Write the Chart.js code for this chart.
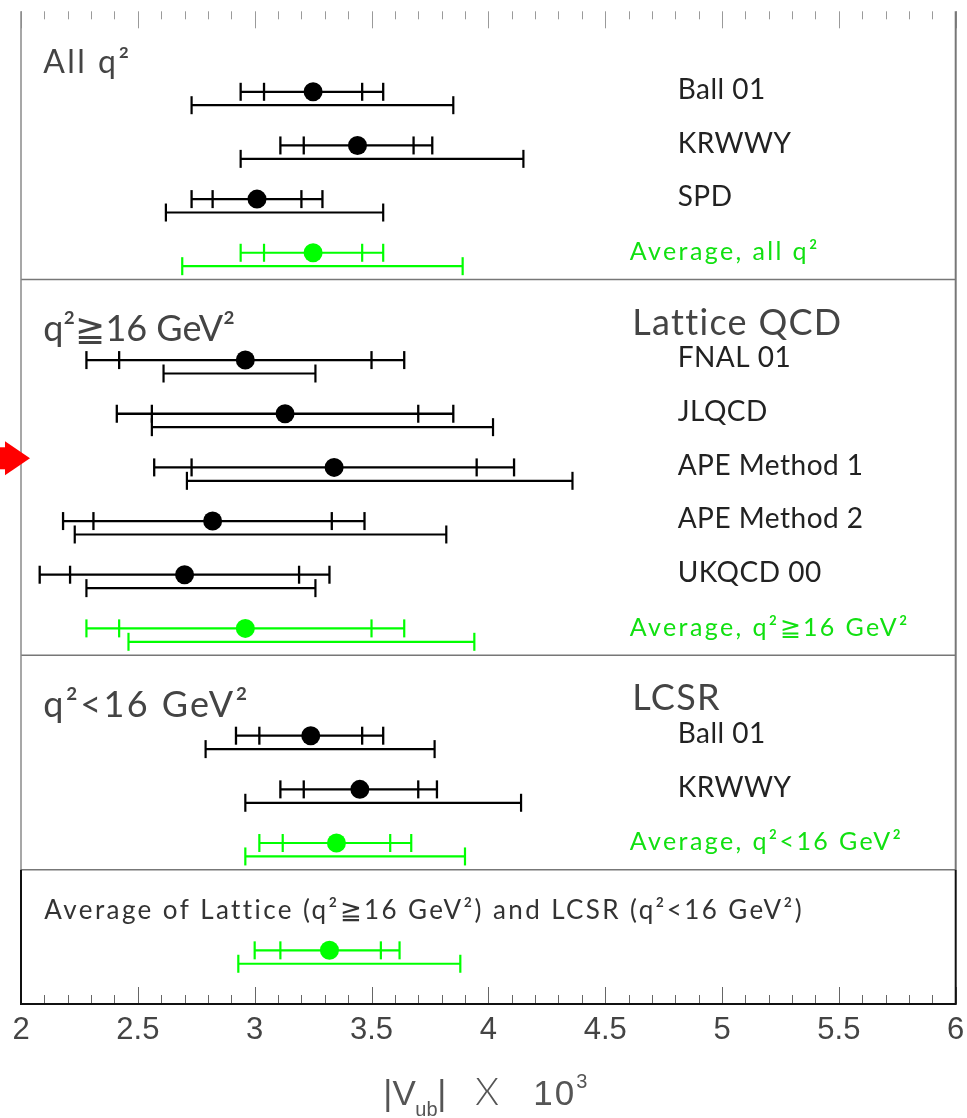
<!DOCTYPE html>
<html><head><meta charset="utf-8">
<script src="https://cdn.jsdelivr.net/npm/chart.js@4"></script>
<style>html,body{margin:0;padding:0;background:#fff}#wrap{width:967px;height:1118px;position:relative}</style>
</head><body><div id="wrap"><canvas id="c"></canvas></div>
<script>
// ---------- DATA ----------
const sectionTitles = ['All q\u00B2', 'q\u00B2\u226716 GeV\u00B2', 'q\u00B2<16 GeV\u00B2', 'Average of Lattice (q\u00B2\u226716 GeV\u00B2) and LCSR (q\u00B2<16 GeV\u00B2)'];
const sectionSubtitles = ['', 'Lattice QCD', 'LCSR', ''];
const sectionSizes = [4, 6, 3, 1];
const rowLabels = ['Ball 01', 'KRWWY', 'SPD', 'Average, all q\u00B2',
  'FNAL 01', 'JLQCD', 'APE Method 1', 'APE Method 2', 'UKQCD 00', 'Average, q\u00B2\u226716 GeV\u00B2',
  'Ball 01', 'KRWWY', 'Average, q\u00B2<16 GeV\u00B2', ''];
const isAverage = [false, false, false, true, false, false, false, false, false, true, false, false, true, true];
const central = [3.25, 3.44, 3.01, 3.25, 2.96, 3.13, 3.34, 2.82, 2.70, 2.96, 3.24, 3.45, 3.35, 3.32];
const statLo  = [3.04, 3.21, 2.82, 3.04, 2.42, 2.56, 2.73, 2.31, 2.21, 2.42, 3.02, 3.21, 3.12, 3.11];
const statHi  = [3.46, 3.68, 3.20, 3.46, 3.50, 3.70, 3.95, 3.33, 3.19, 3.50, 3.46, 3.70, 3.58, 3.54];
const expLo   = [2.94, 3.11, 2.73, 2.94, 2.28, 2.41, 2.57, 2.18, 2.08, 2.28, 2.92, 3.11, 3.02, 3.00];
const expHi   = [3.55, 3.76, 3.29, 3.55, 3.64, 3.85, 4.11, 3.47, 3.32, 3.64, 3.55, 3.78, 3.67, 3.62];
const theoLo  = [2.73, 2.94, 2.62, 2.69, 2.61, 2.56, 2.71, 2.23, 2.28, 2.46, 2.79, 2.96, 2.96, 2.93];
const theoHi  = [3.85, 4.15, 3.55, 3.89, 3.26, 4.02, 4.36, 3.82, 3.26, 3.94, 3.77, 4.14, 3.90, 3.88];
const xTickLabels = ['2', '2.5', '3', '3.5', '4', '4.5', '5', '5.5', '6'];
const xMin = 2, xMax = 6;

// ---------- LAYOUT (row slots: one empty slot between sections) ----------
const slots = [], sectionFirst = [], sectionLast = [];
let s = 0;
sectionSizes.forEach(n => { sectionFirst.push(s); for (let k = 0; k < n; k++) { slots.push(s); s++; } sectionLast.push(s - 1); s++; });
const LOW_OFF = 0.25;
const BLACK = '#000', GREEN = '#00ff00';

function barData(avg) {
  const d = [];
  central.forEach((c, i) => {
    if (isAverage[i] !== avg) return;
    const y = slots[i];
    d.push({x: expLo[i], y}, {x: statLo[i], y}, {x: statHi[i], y}, {x: expHi[i], y}, {x: expHi[i], y: null});
  });
  return d;
}
function lowData(avg) {
  const d = [];
  central.forEach((c, i) => {
    if (isAverage[i] !== avg) return;
    const y = slots[i] + LOW_OFF;
    d.push({x: theoLo[i], y}, {x: theoHi[i], y}, {x: theoHi[i], y: null});
  });
  return d;
}
function dotData(avg) {
  return central.map((c, i) => isAverage[i] === avg ? {x: c, y: slots[i]} : null).filter(Boolean);
}
function lineDs(data, color, w) {
  return {type: 'line', data, borderColor: color, borderWidth: w, pointStyle: 'line', rotation: 90,
    pointRadius: 9, pointBorderWidth: w, pointBorderColor: color, pointBackgroundColor: color,
    spanGaps: false, tension: 0, order: 2, fill: false};
}
function dotDs(data, color) {
  return {type: 'scatter', data, pointStyle: 'circle', pointRadius: 9.5, backgroundColor: color,
    borderWidth: 0, pointBorderWidth: 0, order: 0};
}

function txt(ctx, t, x, y, font, color, spacing) {
  ctx.font = font; ctx.fillStyle = color;
  ctx.letterSpacing = spacing || '0px';
  ctx.fillText(t, x, y);
  ctx.letterSpacing = '0px';
}

const deco = {
  id: 'deco',
  beforeDatasetsDraw(chart) {
    const {ctx, chartArea: a, scales: {x, y}} = chart;
    ctx.save();
    for (let k = 0; k <= 40; k++) {
      const v = xMin + k * 0.1;
      const px = Math.round(x.getPixelForValue(v)) + 0.5;
      const major = k % 5 === 0;
      ctx.lineWidth = 1;
      ctx.strokeStyle = '#9a9a9a';
      ctx.beginPath(); ctx.moveTo(px, a.top); ctx.lineTo(px, a.top + (major ? 17 : 8)); ctx.stroke();
      ctx.strokeStyle = '#666';
      ctx.beginPath(); ctx.moveTo(px, a.bottom); ctx.lineTo(px, a.bottom - (major ? 17 : 9)); ctx.stroke();
    }
    ctx.strokeStyle = '#777'; ctx.lineWidth = 1.5;
    for (let i = 0; i < sectionSizes.length - 1; i++) {
      const py = y.getPixelForValue(sectionLast[i] + 0.5);
      ctx.beginPath(); ctx.moveTo(a.left, py); ctx.lineTo(a.right, py); ctx.stroke();
    }
    ctx.strokeStyle = '#8a8a8a'; ctx.lineWidth = 1.5;
    const lastTop = y.getPixelForValue(sectionLast[sectionSizes.length - 2] + 0.5);
    ctx.beginPath(); ctx.moveTo(a.left, a.top); ctx.lineTo(a.left, lastTop); ctx.stroke();
    ctx.strokeStyle = '#777'; ctx.lineWidth = 2;
    ctx.beginPath(); ctx.moveTo(a.right, a.top); ctx.lineTo(a.right, lastTop); ctx.stroke();
    ctx.strokeStyle = '#111'; ctx.lineWidth = 2;
    ctx.beginPath(); ctx.moveTo(a.left, lastTop); ctx.lineTo(a.left, a.bottom); ctx.lineTo(a.right, a.bottom); ctx.lineTo(a.right, lastTop); ctx.stroke();
    ctx.restore();
  },
  afterDatasetsDraw(chart) {
    const {ctx, chartArea: a, scales: {x, y}} = chart;
    ctx.save();
    ctx.textAlign = 'left'; ctx.textBaseline = 'alphabetic';
    rowLabels.forEach((t, i) => {
      if (!t) return;
      const py = y.getPixelForValue(slots[i] + 0.135);
      if (isAverage[i]) txt(ctx, t, x.getPixelForValue(4.605), py, '25px Lato', '#11e011', '2.4px');
      else txt(ctx, t, x.getPixelForValue(4.81), py, '28px Lato', '#222', '0.5px');
    });
    sectionTitles.forEach((t, i) => {
      const last = i === sectionTitles.length - 1;
      const py = y.getPixelForValue(sectionFirst[i] - (last ? 0.59 : 0.35));
      if (last) txt(ctx, t, x.getPixelForValue(2.10), py, '26px Lato', '#333', '2.4px');
      else if (i === 0) txt(ctx, t, x.getPixelForValue(2.095), py, '32px Lato', '#444', '2.5px');
      else if (i === 1) txt(ctx, t, x.getPixelForValue(2.095), py, '36px Lato', '#444', '0px');
      else txt(ctx, t, x.getPixelForValue(2.095), py, '36px Lato', '#444', '2.4px');
      if (sectionSubtitles[i]) {
        txt(ctx, sectionSubtitles[i], x.getPixelForValue(4.616), y.getPixelForValue(sectionFirst[i] - 0.47), '36px Lato', '#444', '1.3px');
      }
    });
    ctx.textAlign = 'center';
    xTickLabels.forEach(t => txt(ctx, t, x.getPixelForValue(parseFloat(t)), a.bottom + 35, '31px "Liberation Sans"', '#444'));
    // axis title |V_ub| X 10^3
    ctx.textAlign = 'left';
    const base = a.bottom + 101;
    const x0 = (a.left + a.right) / 2 - 105;
    const parts = [
      {t: '|V', f: '35px "Liberation Sans"', dx: 0, dy: 0},
      {t: 'ub', f: '20px "Liberation Sans"', dx: 32, dy: 11},
      {t: '|', f: '35px "Liberation Sans"', dx: 54, dy: 0},
      {t: 'X', f: '300 38px Lato', dx: 92, dy: 0},
      {t: '10', f: '35px "Liberation Sans"', dx: 150, dy: 0, sp: '2px'},
      {t: '3', f: '20px "Liberation Sans"', dx: 193, dy: -17}
    ];
    parts.forEach(p => txt(ctx, p.t, x0 + p.dx, base + p.dy, p.f, '#555', p.sp));
    ctx.restore();
  },
  afterDraw(chart) {
    const {ctx, chartArea: a, scales: {y}} = chart;
    const cy = y.getPixelForValue(slots[6] - 0.17);
    ctx.save();
    ctx.fillStyle = '#ff0000';
    ctx.fillRect(0, cy - 11, 6, 22);
    ctx.beginPath(); ctx.moveTo(5, cy - 17); ctx.lineTo(a.left + 9, cy); ctx.lineTo(5, cy + 17); ctx.closePath(); ctx.fill();
    ctx.restore();
  }
};

new Chart(document.getElementById('c'), {
  type: 'scatter',
  data: {datasets: [
    lineDs(barData(false), BLACK, 2.3), lineDs(lowData(false), BLACK, 2.2),
    lineDs(barData(true), GREEN, 2.2), lineDs(lowData(true), GREEN, 2.2),
    dotDs(dotData(false), BLACK), dotDs(dotData(true), GREEN)
  ]},
  options: {
    responsive: true, maintainAspectRatio: false, animation: false, events: [],
    layout: {padding: {left: 21, right: 11, top: 8, bottom: 114}},
    scales: {
      x: {type: 'linear', min: xMin, max: xMax, display: false},
      y: {type: 'linear', min: -1.5, max: 17, reverse: true, display: false}
    },
    plugins: {legend: {display: false}, tooltip: {enabled: false}},
    clip: false
  },
  plugins: [deco]
});
</script></body></html>
